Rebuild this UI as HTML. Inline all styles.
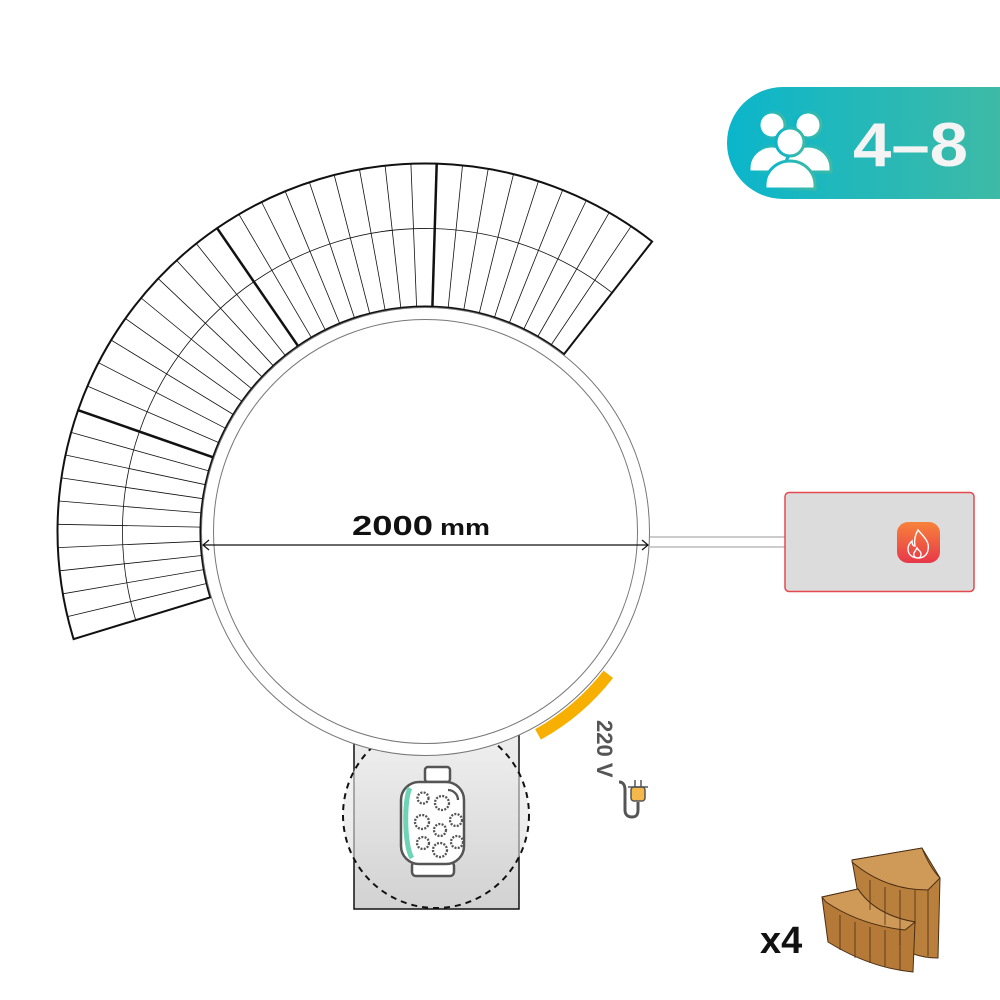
<!DOCTYPE html>
<html><head><meta charset="utf-8"><style>
html,body{margin:0;padding:0;background:#fff;width:1000px;height:1000px;overflow:hidden}
svg{display:block}
</style></head><body>
<svg id="s" width="1000" height="1000" viewBox="0 0 1000 1000" xmlns="http://www.w3.org/2000/svg" font-family="'Liberation Sans',sans-serif">
<defs>
<linearGradient id="bg" x1="0" x2="1" y1="0" y2="0"><stop offset="0" stop-color="#0bb6cb"/><stop offset="1" stop-color="#3ebaa6"/></linearGradient>
<linearGradient id="fg" x1="0" x2="0" y1="0" y2="1"><stop offset="0" stop-color="#f3f3f3"/><stop offset="1" stop-color="#d2d2d2"/></linearGradient>
<linearGradient id="fire" x1="0" x2="0" y1="0" y2="1"><stop offset="0" stop-color="#f7823a"/><stop offset="1" stop-color="#e8384a"/></linearGradient>
</defs>

<!-- badge -->
<path d="M783 87 H1000 V199 H783 A56 56 0 0 1 783 87 Z" fill="url(#bg)"/>
<g fill="#fff" stroke="url(#bg)" stroke-width="3">
<circle cx="772" cy="125" r="13"/><path d="M749 168 a23 22 0 0 1 46 0 v4 h-46z"/>
<circle cx="808" cy="125" r="13"/><path d="M785 168 a23 22 0 0 1 46 0 v4 h-46z"/>
<circle cx="790" cy="142" r="14"/><path d="M765 185 a25 24 0 0 1 50 0 v4 h-50z"/>
</g>
<text x="853" y="166" font-size="62" font-weight="bold" fill="#f4f4f4" textLength="115" lengthAdjust="spacingAndGlyphs">4–8</text>

<!-- bench -->
<g id="bench" fill="none" stroke="#111"></g>

<!-- filter (drawn under tub) -->
<rect x="354" y="700" width="165" height="209" fill="url(#fg)" stroke="#111" stroke-width="1.5"/>
<circle cx="436" cy="815" r="93" fill="url(#fg)" fill-opacity="0.6" stroke="#111" stroke-width="2" stroke-dasharray="6 5"/>

<!-- tub -->
<circle cx="425.5" cy="531.5" r="224" fill="#fff" stroke="#777" stroke-width="1"/>
<circle cx="425.5" cy="531.5" r="212" fill="none" stroke="#777" stroke-width="1"/>

<g stroke="#555" stroke-width="2.5" fill="#fff">
<rect x="425" y="767" width="25" height="15" rx="3"/>
<rect x="412" y="862" width="42" height="14" rx="4"/>
<rect x="401" y="782" width="63" height="82" rx="18"/>
</g>
<path d="M410 788 c-6 10 -6 58 2 70" stroke="#6fd4b5" stroke-width="5" fill="none"/>
<g stroke="#555" stroke-width="2.3" fill="#fff" stroke-dasharray="2 1.3">
<circle cx="423" cy="798" r="5.5"/><circle cx="442" cy="803" r="7"/><circle cx="422" cy="822" r="7"/><circle cx="456" cy="820" r="6"/><circle cx="440" cy="830" r="6"/><circle cx="423" cy="843" r="6"/><circle cx="440" cy="850" r="7"/><circle cx="457" cy="842" r="6"/>
</g>
<path d="M448 790 a10 10 0 0 1 10 10" stroke="#555" stroke-width="2.3" fill="none"/>

<!-- pipes to heater -->
<line x1="650" y1="537" x2="785" y2="537" stroke="#999"/>
<line x1="650" y1="547" x2="785" y2="547" stroke="#999"/>
<rect x="785" y="492.5" width="189" height="99" rx="4" fill="#dcdcdc" stroke="#e5484d" stroke-width="1.5"/>
<rect x="897" y="522" width="43" height="41" rx="11" fill="url(#fire)"/>
<path d="M918 530 c6 7 12 12 10 20 c-1 6 -6 8 -10 8 c-5 0 -10 -3 -10 -9 c0 -4 2 -6 4 -8 c0 3 1 5 3 5 c-1 -5 0 -11 3 -16z M918 558 c-3 0 -5 -2 -4 -5 c1 -2 2 -3 3 -5 c1 2 4 3 4 6 c0 2 -1 4 -3 4z" fill="none" stroke="#fff" stroke-width="1.4"/>

<!-- dimension -->
<line x1="203" y1="545" x2="648" y2="545" stroke="#111" stroke-width="1.2"/>
<path d="M209 540 L203 545 L209 550 M642 540 L648 545 L642 550" fill="none" stroke="#111" stroke-width="1.2"/>
<text x="352" y="535" font-size="28" font-weight="bold" fill="#111" textLength="81" lengthAdjust="spacingAndGlyphs">2000</text>
<text x="440" y="535" font-size="22" font-weight="bold" fill="#111" textLength="50" lengthAdjust="spacingAndGlyphs">mm</text>

<!-- yellow arc -->
<path id="yarc" fill="none" stroke="#f7b000" stroke-width="12"/>

<!-- 220 V -->
<text transform="translate(597,720) rotate(90)" font-size="22" font-weight="bold" fill="#555">220 V</text>
<path d="M619 782 c4 0 6 3 6 8 v20 c0 5 3 7 7 7 s6 -2 6 -7 v-8" fill="none" stroke="#555" stroke-width="3"/>
<rect x="631" y="787" width="14" height="14" rx="3" fill="#f5b84a" stroke="#555" stroke-width="1.5"/>
<line x1="628" y1="787" x2="648" y2="787" stroke="#555" stroke-width="1.5"/>
<line x1="635" y1="780" x2="635" y2="787" stroke="#555" stroke-width="1.5"/>
<line x1="641" y1="780" x2="641" y2="787" stroke="#555" stroke-width="1.5"/>

<!-- steps -->
<g stroke="#4a2e14" stroke-width="1">
<path d="M852 860 L922 848 L940 878 L938 958 Q910 958 890 940 L860 905 Z" fill="#b97f3c"/>
<path d="M852 860 L922 848 Q930 868 940 878 L928 890 Q885 890 852 862Z" fill="#cf9a58"/>
<path d="M822 897 L858 889 Q875 915 915 922 L913 972 Q870 968 828 942 Z" fill="#b67a38"/>
<path d="M822 897 L858 889 Q875 915 915 922 L905 930 Q860 925 826 902Z" fill="#cf9a58"/>
</g>
<g stroke="#4a2e14" stroke-width="0.8">
<line x1="870" y1="880" x2="870" y2="910"/><line x1="885" y1="887" x2="885" y2="925"/><line x1="900" y1="890" x2="900" y2="945"/><line x1="915" y1="890" x2="915" y2="922"/><line x1="928" y1="890" x2="928" y2="956"/>
<line x1="840" y1="915" x2="840" y2="950"/><line x1="855" y1="922" x2="855" y2="958"/><line x1="870" y1="927" x2="870" y2="963"/><line x1="885" y1="930" x2="885" y2="967"/><line x1="900" y1="930" x2="900" y2="970"/>
</g>
<text x="760" y="953" font-size="38" font-weight="bold" fill="#111">x4</text>
</svg>
<script>
var cx=425.5,cy=531.5,ri=225,rm=303,ro=368;
var g=document.getElementById('bench'),h='';
function P(r,a){a=a*Math.PI/180;return (cx+r*Math.cos(a)).toFixed(1)+' '+(cy+r*Math.sin(a)).toFixed(1);}
var A0=-52,A1=-197;
h+='<path stroke-width="2" d="M'+P(ro,A0)+' A'+ro+' '+ro+' 0 0 0 '+P(ro,A1)+' L'+P(ri,A1)+' A'+ri+' '+ri+' 0 0 1 '+P(ri,A0)+' Z"/>';
h+='<path stroke-width="0.8" d="M'+P(rm,A0)+' A'+rm+' '+rm+' 0 0 0 '+P(rm,A1)+'"/>';
var seg=(A1-A0)/4;
for(var s=0;s<4;s++){var a0=A0+s*seg;
 if(s>0)h+='<line stroke-width="2.5" x1="'+P(ri,a0).split(' ')[0]+'" y1="'+P(ri,a0).split(' ')[1]+'" x2="'+P(ro,a0).split(' ')[0]+'" y2="'+P(ro,a0).split(' ')[1]+'"/>';
 var n=s==3?10:9;
 for(var k=1;k<n;k++){var a=a0+seg*k/n;var p=P(ri,a).split(' '),q=P(ro,a).split(' ');
 h+='<line stroke-width="0.8" x1="'+p[0]+'" y1="'+p[1]+'" x2="'+q[0]+'" y2="'+q[1]+'"/>';}}
g.innerHTML=h;
document.getElementById('yarc').setAttribute('d','M'+P(232,38)+' A232 232 0 0 1 '+P(232,61));
</script>
</body></html>
